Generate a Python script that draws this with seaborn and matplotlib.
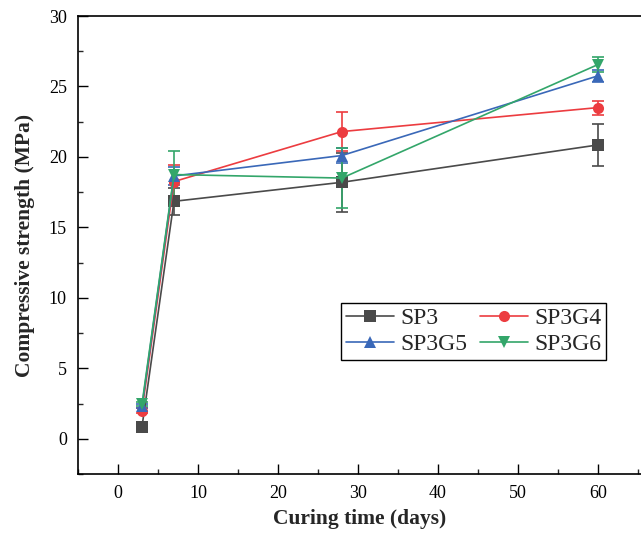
import numpy as np
import pandas as pd
import matplotlib
matplotlib.use("Agg")
import matplotlib.pyplot as plt
import seaborn as sns
from matplotlib.ticker import MultipleLocator
from matplotlib.lines import Line2D

days = [3, 7, 28, 60]
series = ["SP3", "SP3G4", "SP3G5", "SP3G6"]
sp3 = [0.85, 16.85, 18.2, 20.85]
sp3_err = [0.1, 0.95, 2.1, 1.5]
sp3g4 = [2.0, 18.25, 21.8, 23.5]
sp3g4_err = [0.15, 1.2, 1.4, 0.5]
sp3g5 = [2.3, 18.65, 20.1, 25.75]
sp3g5_err = [0.15, 0.65, 0.5, 0.4]
sp3g6 = [2.45, 18.75, 18.5, 26.55]
sp3g6_err = [0.15, 1.7, 2.1, 0.55]

values = {"SP3": sp3, "SP3G4": sp3g4, "SP3G5": sp3g5, "SP3G6": sp3g6}
errors = {"SP3": sp3_err, "SP3G4": sp3g4_err, "SP3G5": sp3g5_err, "SP3G6": sp3g6_err}

colors = {"SP3": "#4a4a4a", "SP3G4": "#ec3c40", "SP3G5": "#3a68b8", "SP3G6": "#33a66a"}
markers = {"SP3": "s", "SP3G4": "o", "SP3G5": "^", "SP3G6": "v"}

rows = []
for s in series:
    for d, v in zip(days, values[s]):
        rows.append({"days": d, "strength": v, "series": s})
df = pd.DataFrame(rows)

sns.set_style("ticks")
plt.rcParams["font.family"] = ["Liberation Serif", "DejaVu Serif"]

fig = plt.figure(figsize=(6.41, 5.37), dpi=100)
ax = fig.add_axes([0.1217, 0.1173, 0.8783, 0.8529])

sns.lineplot(data=df, x="days", y="strength", hue="series", style="series",
             palette=colors, markers=markers, dashes=False, ax=ax,
             markersize=8, linewidth=1.2, markeredgewidth=0, legend=False)

for s in series:
    ax.errorbar(days, values[s], yerr=errors[s], fmt="none", ecolor=colors[s],
                elinewidth=1.2, capsize=4, capthick=1.2, zorder=1)

order = ["SP3", "SP3G5", "SP3G4", "SP3G6"]
handles = [Line2D([], [], color=colors[s], marker=markers[s], markersize=8,
                  linewidth=1.2, markeredgewidth=0) for s in order]
leg = ax.legend(handles, order, loc="lower left", bbox_to_anchor=(0.467, 0.249),
                ncol=2, fontsize=17, frameon=True, fancybox=False,
                edgecolor="black", framealpha=1, borderpad=0.2,
                handlelength=2.05, handletextpad=0.25, columnspacing=0.55,
                labelspacing=0.2, borderaxespad=0)
leg.get_frame().set_linewidth(1.0)

ax.set_xlim(-5, 65.4)
ax.set_ylim(-2.5, 30)
ax.xaxis.set_major_locator(MultipleLocator(10))
ax.xaxis.set_minor_locator(MultipleLocator(5))
ax.yaxis.set_major_locator(MultipleLocator(5))
ax.yaxis.set_minor_locator(MultipleLocator(2.5))
ax.tick_params(which="major", direction="in", length=7, width=1.0, labelsize=13,
               top=False, right=False, pad=8, colors="black")
ax.tick_params(which="minor", direction="in", length=3.5, width=1.0,
               top=False, right=False)
for sp in ["left", "bottom", "top"]:
    ax.spines[sp].set_visible(True)
    ax.spines[sp].set_linewidth(1.2)
    ax.spines[sp].set_color("black")
ax.spines["right"].set_visible(False)

ax.set_xlabel("Curing time (days)", fontsize=15.5, fontweight="bold", labelpad=5)
ax.set_ylabel("Compressive strength (MPa)", fontsize=15.5, fontweight="bold", labelpad=10)

fig.savefig("out.png", dpi=100)
